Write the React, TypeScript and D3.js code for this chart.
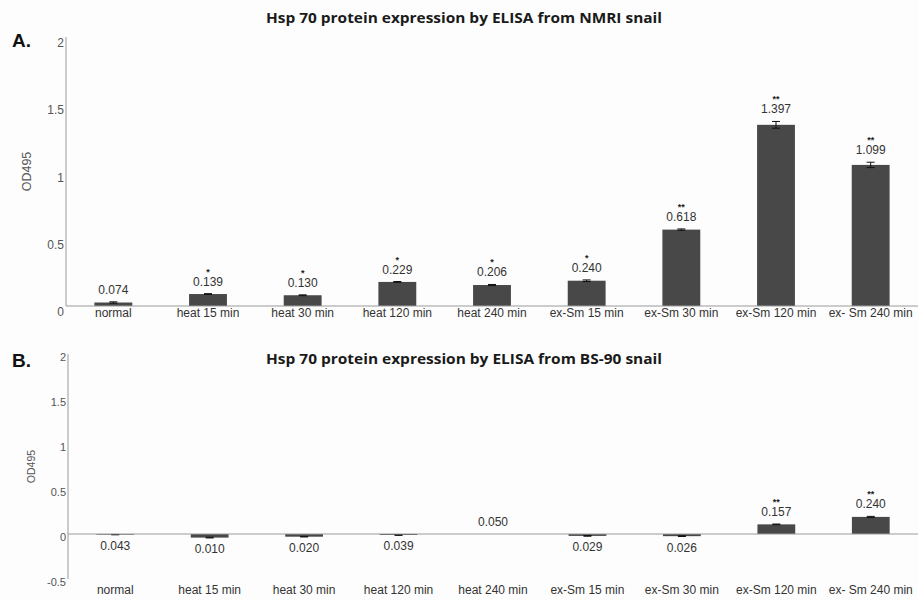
import * as d3 from 'd3';

// categories shared by both panels
const categories = [
    'normal', 'heat 15 min', 'heat 30 min', 'heat 120 min', 'heat 240 min',
    'ex-Sm 15 min', 'ex-Sm 30 min', 'ex-Sm 120 min', 'ex- Sm 240 min'
];

// Panel A (NMRI) - reported OD values, drawn bar heights, error, significance
const nmriLabels = ['0.074', '0.139', '0.130', '0.229', '0.206', '0.240', '0.618', '1.397', '1.099'];
const nmriBars = [0.026, 0.089, 0.080, 0.179, 0.156, 0.188, 0.568, 1.347, 1.049];
const nmriErr = [0.005, 0.003, 0.003, 0.003, 0.004, 0.006, 0.005, 0.025, 0.02];
const nmriStars = ['', '*', '*', '*', '*', '*', '**', '**', '**'];

// Panel B (BS-90)
const bsLabels = ['0.043', '0.010', '0.020', '0.039', '0.050', '0.029', '0.026', '0.157', '0.240'];
const bsBars = [-0.007, -0.040, -0.030, -0.011, 0, -0.021, -0.024, 0.107, 0.19];
const bsErr = [0.002, 0.004, 0.003, 0.005, 0, 0.004, 0.004, 0.004, 0.006];
const bsStars = ['', '', '', '', '', '', '', '**', '**'];

const ticksA = [0, 0.5, 1, 1.5, 2];
const ticksB = [-0.5, 0, 0.5, 1, 1.5, 2];

const FONT = '"Liberation Sans", Arial, sans-serif';
const BAR = '#484848';
const AXIS = '#9a9a9a';
const TEXT = '#333';

interface PanelProps {
    letter: string;
    title: string;
    titleY: number;
    letterY: number;
    x0: number;
    yTop: number;
    yBottom: number;
    domain: [number, number];
    ticks: number[];
    tickDy: number;
    tickFont: number;
    labels: string[];
    bars: number[];
    err: number[];
    stars: string[];
    catY: number;
    odX: number;
    odFont: number;
}

function Panel(p: PanelProps) {
    const x = d3.scaleBand<string>()
        .domain(categories)
        .range([p.x0, 918])
        .paddingInner(0.6)
        .paddingOuter(0.3);
    const y = d3.scaleLinear().domain(p.domain).range([p.yBottom, p.yTop]);
    const bw = x.bandwidth();
    const zero = y(0);

    return (
        <g>
            <text x={12} y={p.letterY} fontFamily={FONT} fontWeight="bold" fontSize={19} fill="#111">{p.letter}</text>
            <text x={464} y={p.titleY} textAnchor="middle" fontFamily='"Open Sans", sans-serif'
                fontWeight="bold" fontSize={13.5} fill="#1a1a1a" textLength={396} lengthAdjust="spacingAndGlyphs">{p.title}</text>

            {/* y axis */}
            <line x1={p.x0} x2={p.x0} y1={y(p.domain[1])} y2={y(p.domain[0])} stroke={AXIS} strokeWidth={1} />
            {p.ticks.map(t => (
                <text key={t} x={p.x0 - 2} y={y(t) + p.tickDy} textAnchor="end" dominantBaseline="middle"
                    fontFamily={FONT} fontSize={p.tickFont} fill="#555">{t}</text>
            ))}
            <text transform={`translate(${p.odX},${(y(p.domain[1]) + y(p.domain[0])) / 2}) rotate(-90)`}
                textAnchor="middle" fontFamily={FONT} fontSize={p.odFont} fill="#555">OD495</text>

            {/* bars */}
            {categories.map((c, i) => {
                const v = p.bars[i];
                const e = p.err[i];
                const cx = (x(c) as number) + bw / 2;
                const top = Math.min(y(v), zero);
                const h = Math.abs(y(v) - zero);
                const above = v >= 0;
                const labelY = above ? y(v + e) - 8 : y(v - e) + 15;
                return (
                    <g key={c}>
                        {h > 0 && <rect x={x(c)} y={top} width={bw} height={h} fill={BAR} />}
                        {e > 0 && (
                            <g stroke="#111" strokeWidth={1}>
                                <line x1={cx} x2={cx} y1={y(v - e)} y2={y(v + e)} />
                                <line x1={cx - 4} x2={cx + 4} y1={y(v + e)} y2={y(v + e)} />
                                <line x1={cx - 4} x2={cx + 4} y1={y(v - e)} y2={y(v - e)} />
                            </g>
                        )}
                        <text x={cx} y={labelY} textAnchor="middle" fontFamily={FONT} fontSize={12} fill={TEXT}>{p.labels[i]}</text>
                        {p.stars[i] && (
                            <text x={cx} y={labelY - 11} textAnchor="middle" fontFamily={FONT} fontSize={9}
                                fontWeight="bold" fill="#222">{p.stars[i]}</text>
                        )}
                        <text x={cx} y={p.catY} textAnchor="middle" fontFamily={FONT} fontSize={12} fill={TEXT}>{c}</text>
                    </g>
                );
            })}

            {/* zero line */}
            <line x1={p.x0} x2={918} y1={zero} y2={zero} stroke={AXIS} strokeWidth={1} />
        </g>
    );
}

export default function App() {
    return (
        <svg width={918} height={600} style={{ position: 'absolute', left: 0, top: 0, background: '#fdfdfd' }}>
            <rect width={918} height={600} fill="#fdfdfd" />
            <Panel
                letter="A." title="Hsp 70 protein expression by ELISA from NMRI snail"
                titleY={23} letterY={47}
                x0={66} yTop={37} yBottom={306} domain={[0, 2]}
                ticks={ticksA} tickDy={7} tickFont={12}
                labels={nmriLabels} bars={nmriBars} err={nmriErr} stars={nmriStars}
                catY={317} odX={31} odFont={12.5}
            />
            <Panel
                letter="B." title="Hsp 70 protein expression by ELISA from BS-90 snail"
                titleY={364} letterY={367}
                x0={68} yTop={354} yBottom={579} domain={[-0.5, 2]}
                ticks={ticksB} tickDy={4} tickFont={11}
                labels={bsLabels} bars={bsBars} err={bsErr} stars={bsStars}
                catY={594} odX={35} odFont={10.5}
            />
        </svg>
    );
}
